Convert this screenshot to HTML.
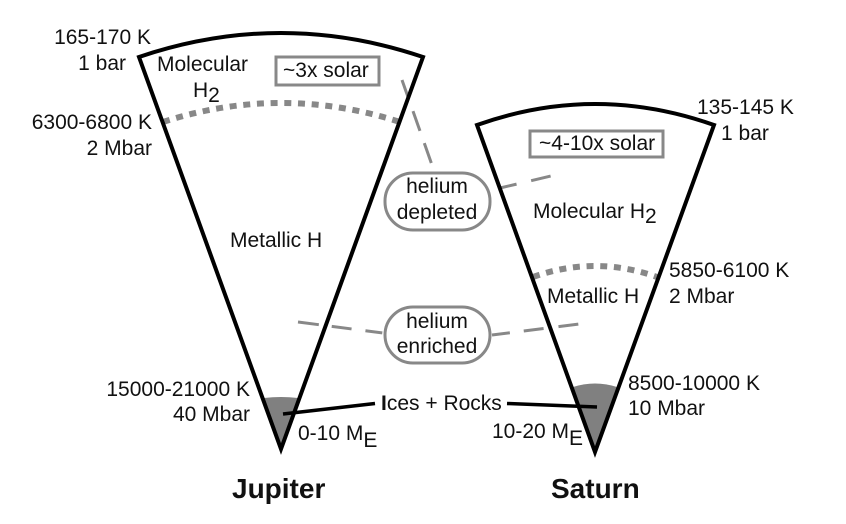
<!DOCTYPE html>
<html><head><meta charset="utf-8"><style>
html,body{margin:0;padding:0;background:#fff}
svg{display:block}
text{font-family:"Liberation Sans",Arial,sans-serif;font-size:21px;fill:#111}
.e{text-anchor:end}.m{text-anchor:middle}
.b{font-weight:bold;font-size:28px}
</style></head><body>
<svg width="846" height="524" viewBox="0 0 846 524" xmlns="http://www.w3.org/2000/svg">
<rect width="846" height="524" fill="#fff"/>
<!-- cores -->
<path d="M264,398 Q281,396 298,398 L281,449 Z" fill="#808080"/>
<path d="M573,387 Q595,380 617,387 L595,452 Z" fill="#808080"/>
<!-- dotted boundaries -->
<g fill="none" stroke="#888" stroke-width="6">
<path d="M163,122 Q281,84 400,122" stroke-dasharray="7 6.7"/>
<path d="M533,277 Q595,255 657,277" stroke-dasharray="7 6.7"/>
</g>
<!-- dashed connectors -->
<g fill="none" stroke="#888" stroke-width="3">
<path d="M402,80 L432,165" stroke-dasharray="18 15 21 13 21"/>
<path d="M500,188 L551,176" stroke-dasharray="17 15 20"/>
<path d="M298,322 L383,333" stroke-dasharray="21 13 20 14 17"/>
<path d="M492,335 L579,324" stroke-dasharray="18 14 20 15 20"/>
</g>
<!-- wedges -->
<g fill="none" stroke="#000" stroke-width="4" stroke-linejoin="miter">
<path d="M139,57 Q281,9 423,57 L281,449 Z"/>
<path d="M477,125 Q595,83 714,125 L595,452 Z"/>
</g>
<!-- boxes -->
<g fill="#fff" stroke="#888" stroke-width="3">
<rect x="276" y="57" width="103" height="28" fill="none"/>
<rect x="530" y="131" width="133" height="26" fill="none"/>
<rect x="385" y="173" width="105" height="57" rx="28" ry="28"/>
<rect x="385" y="307" width="105" height="56" rx="28" ry="28"/>
</g>
<!-- ices lines -->
<g stroke="#000" stroke-width="3.5">
<line x1="283" y1="414" x2="375" y2="403.500"/>
<line x1="507" y1="403.500" x2="597" y2="407"/>
</g>
<!-- labels -->
<text class="e" x="151" y="44">165-170 K</text>
<text class="e" x="126" y="70">1 bar</text>
<text class="e" x="152" y="129">6300-6800 K</text>
<text class="e" x="152" y="155">2 Mbar</text>
<text x="157" y="71">Molecular</text>
<text x="193" y="97">H<tspan dy="5">2</tspan></text>
<text x="283" y="77">~3x solar</text>
<text x="230" y="247">Metallic H</text>
<text x="697" y="114">135-145 K</text>
<text x="721" y="140">1 bar</text>
<text x="539" y="150">~4-10x solar</text>
<text x="533" y="218">Molecular H<tspan dy="5">2</tspan></text>
<text x="669" y="277">5850-6100 K</text>
<text x="669" y="303">2 Mbar</text>
<text x="547" y="303">Metallic H</text>
<text class="m" x="437" y="193">helium</text>
<text class="m" x="437" y="219">depleted</text>
<text class="m" x="437" y="328">helium</text>
<text class="m" x="437" y="353">enriched</text>
<text class="e" x="250" y="396">15000-21000 K</text>
<text class="e" x="250" y="421">40 Mbar</text>
<text x="381" y="410"><tspan font-weight="bold">I</tspan>ces + Rocks</text>
<text x="298" y="440">0-10 M<tspan dy="7">E</tspan></text>
<text x="492" y="438">10-20 M<tspan dy="7">E</tspan></text>
<text x="628" y="390">8500-10000 K</text>
<text x="628" y="415">10 Mbar</text>
<text class="b" x="232" y="498">Jupiter</text>
<text class="b" x="551" y="498">Saturn</text>
</svg>
</body></html>
